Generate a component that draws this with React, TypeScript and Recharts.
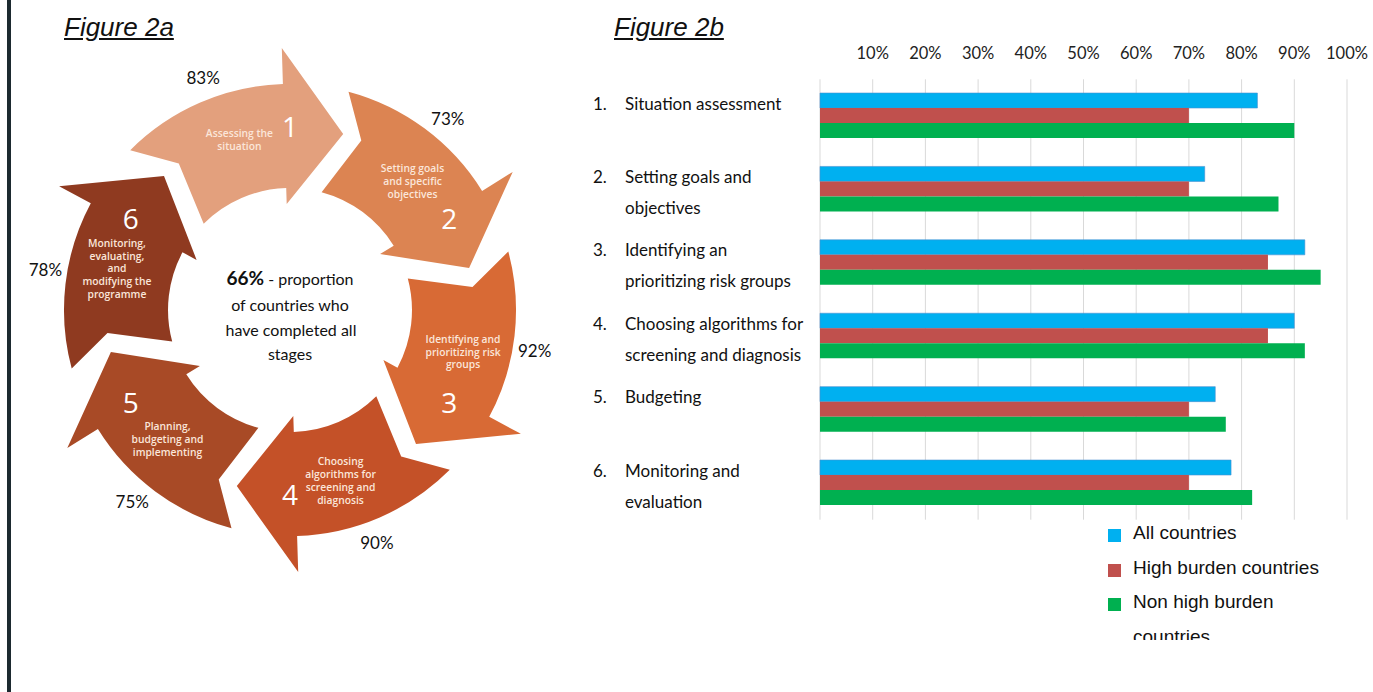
import React from 'react';
import {
  PieChart, Pie, Label,
  BarChart, Bar, XAxis, YAxis, CartesianGrid, Legend,
} from 'recharts';

// Figure 2a – cycle stages (percent of countries that completed each stage)
const cycleCaptions = [
  ['Assessing the', 'situation'],
  ['Setting goals', 'and specific', 'objectives'],
  ['Identifying and', 'prioritizing risk', 'groups'],
  ['Choosing', 'algorithms for', 'screening and', 'diagnosis'],
  ['Planning,', 'budgeting and', 'implementing'],
  ['Monitoring,', 'evaluating,', 'and', 'modifying the', 'programme'],
];
const arrowColors = ['#E3A07D', '#DC8452', '#D86A35', '#C45128', '#A84A26', '#8F3A20'];

// Figure 2b – bar chart
const stageLabels = [
  ['Situation assessment'],
  ['Setting goals and', 'objectives'],
  ['Identifying an', 'prioritizing risk groups'],
  ['Choosing algorithms for', 'screening and diagnosis'],
  ['Budgeting'],
  ['Monitoring and', 'evaluation'],
];
const allCountries = [83, 73, 92, 90, 75, 78];
const highBurden = [70, 70, 85, 85, 70, 70];
const nonHighBurden = [90, 87, 95, 92, 77, 82];
const xTicks = [0, 10, 20, 30, 40, 50, 60, 70, 80, 90, 100];

const seriesInfo = [
  { key: 'all', name: 'All countries', color: '#00B0F0' },
  { key: 'high', name: 'High burden countries', color: '#C0504D' },
  { key: 'non', name: 'Non high burden countries', color: '#00B050' },
];

const cycleData = cycleCaptions.map((lines, i) => ({
  stage: i + 1,
  lines,
  weight: 1,
  pct: allCountries[i],
  color: arrowColors[i],
}));

const barData = stageLabels.map((lines, i) => ({
  stage: String(i + 1),
  lines,
  all: allCountries[i],
  high: highBurden[i],
  non: nonHighBurden[i],
}));

const CAL = 'Lato, "Open Sans", sans-serif';

function polar(cx: number, cy: number, r: number, deg: number): [number, number] {
  const rad = (deg * Math.PI) / 180;
  return [cx + r * Math.cos(rad), cy - r * Math.sin(rad)];
}

function renderArrow(props: any) {
  const { cx, cy, innerRadius, outerRadius, startAngle, endAngle, index } = props;
  const item = cycleData[index];
  const span = startAngle - endAngle;
  const R = outerRadius;
  const r = innerRadius;
  const rm = (R + r) / 2 + 10;
  const tail = startAngle;
  const notch = startAngle - span * 0.13;
  const base = startAngle - span * 0.72;
  const apex = startAngle - span * 1.03;

  const p = (rad: number, a: number) => polar(cx, cy, rad, a).map((v) => v.toFixed(1)).join(' ');
  const d = [
    `M ${p(R, tail)}`,
    `A ${R} ${R} 0 0 1 ${p(R, base)}`,
    `L ${p(R + 36, base)}`,
    `L ${p(rm, apex)}`,
    `L ${p(r - 16, base)}`,
    `L ${p(r, base)}`,
    `A ${r} ${r} 0 0 0 ${p(r, tail)}`,
    `L ${p(rm, notch)}`,
    'Z',
  ].join(' ');

  const mid = startAngle - span / 2;
  const [nx, ny] = polar(cx, cy, 184, mid - 15);
  const [tx, ty] = polar(cx, cy, 178, mid + 1.5);
  const [px, py] = polar(cx, cy, R + 22, mid + 5.5);
  const lh = 12.8;
  const top = ty - ((item.lines.length - 1) * lh) / 2;

  return (
    <g key={`arrow-${index}`}>
      <path d={d} fill={item.color} />
      <text x={nx} y={ny} textAnchor="middle" dominantBaseline="central"
        fill="#ffffff" fontFamily='"Open Sans", sans-serif' fontSize={28}>
        {item.stage}
      </text>
      <text textAnchor="middle" fill="#fbe6da" fontFamily='"Open Sans", sans-serif'
        fontSize={10.3} fontWeight={600}>
        {item.lines.map((ln: string, k: number) => (
          <tspan key={k} x={tx} y={top + k * lh} dominantBaseline="central">{ln}</tspan>
        ))}
      </text>
      <text x={px} y={py} textAnchor="middle" dominantBaseline="central"
        fill="#111" fontFamily={CAL} fontSize={17}>
        {`${item.pct}%`}
      </text>
    </g>
  );
}

function CenterText({ viewBox }: any) {
  const cx = viewBox?.cx ?? 285;
  const cy = viewBox?.cy ?? 305;
  return (
    <text textAnchor="middle" fill="#111" fontFamily={CAL} fontSize={16}>
      <tspan x={cx + 5} y={cy - 20}>
        <tspan fontWeight={700} fontSize={19}>66%</tspan>
        <tspan> - proportion</tspan>
      </tspan>
      <tspan x={cx + 5} y={cy + 6}>of countries who</tspan>
      <tspan x={cx + 6} y={cy + 31}>have completed all</tspan>
      <tspan x={cx + 5} y={cy + 55}>stages</tspan>
    </text>
  );
}

function XTick({ x, payload }: any) {
  if (payload.value === 0) return null;
  return (
    <text x={x} y={53} textAnchor="middle" dominantBaseline="central"
      fill="#222" fontFamily={CAL} fontSize={16.5}>
      {`${payload.value}%`}
    </text>
  );
}

function YTick({ y, payload }: any) {
  const row = barData.find((d) => d.stage === payload.value);
  if (!row) return null;
  return (
    <g>
      <text x={13} y={y - 13} dominantBaseline="central" fill="#111" fontFamily={CAL} fontSize={17}>
        {`${row.stage}.`}
      </text>
      {row.lines.map((ln, k) => (
        <text key={k} x={45} y={y - 13 + k * 31} dominantBaseline="central"
          fill="#111" fontFamily={CAL} fontSize={17}>
          {ln}
        </text>
      ))}
    </g>
  );
}

function LegendBox() {
  return (
    <div style={{ width: 230, fontFamily: '"Liberation Sans", Arial, sans-serif', fontSize: 19, color: '#111' }}>
      {seriesInfo.map((s) => (
        <div key={s.key} style={{ display: 'flex', alignItems: 'flex-start', lineHeight: '34.5px' }}>
          <span style={{
            display: 'inline-block', width: 13, height: 13, background: s.color,
            marginTop: 13, marginRight: 12, flex: '0 0 auto',
          }} />
          <span style={{ width: 200 }}>{s.name}</span>
        </div>
      ))}
    </div>
  );
}

const titleStyle: React.CSSProperties = {
  position: 'absolute',
  top: 12,
  fontFamily: '"Liberation Sans", Arial, sans-serif',
  fontStyle: 'italic',
  textDecoration: 'underline',
  fontSize: 26,
  color: '#111',
  lineHeight: '30px',
};

export default function App() {
  return (
    <div style={{ position: 'absolute', left: 0, top: 0, width: 1373, height: 692, background: '#fff', overflow: 'hidden' }}>
      <div style={{ position: 'absolute', left: 7, top: 0, width: 4, height: 692, background: '#1d2a30' }} />
      <div style={{ ...titleStyle, left: 64 }}>Figure 2a</div>
      <div style={{ ...titleStyle, left: 614 }}>Figure 2b</div>

      <div style={{ position: 'absolute', left: 0, top: 0 }}>
        <PieChart width={580} height={600}>
          <Pie
            data={cycleData}
            dataKey="weight"
            nameKey="stage"
            cx={285}
            cy={305}
            innerRadius={122}
            outerRadius={226}
            startAngle={135}
            endAngle={-225}
            paddingAngle={0}
            fill="transparent"
            stroke="none"
            labelLine={false}
            label={renderArrow}
            isAnimationActive={false}
          >
            <Label position="center" content={<CenterText />} />
          </Pie>
        </PieChart>
      </div>

      <div style={{ position: 'absolute', left: 580, top: 0 }}>
        <BarChart
          width={793}
          height={692}
          data={barData}
          layout="vertical"
          margin={{ top: 0, right: 26, bottom: 172.3, left: 0 }}
          barCategoryGap="18.7%"
          barGap={0}
        >
          <CartesianGrid horizontal={false} stroke="#d9d9d9" />
          <XAxis
            type="number"
            orientation="top"
            domain={[0, 100]}
            ticks={xTicks}
            height={79.3}
            axisLine={false}
            tickLine={false}
            tick={<XTick />}
          />
          <YAxis
            type="category"
            dataKey="stage"
            width={240}
            axisLine={false}
            tickLine={false}
            tick={<YTick />}
          />
          <Bar dataKey="all" name="All countries" fill="#00B0F0" stroke="#4a8fd0" strokeWidth={0.6} isAnimationActive={false} />
          <Bar dataKey="high" name="High burden countries" fill="#C0504D" isAnimationActive={false} />
          <Bar dataKey="non" name="Non high burden countries" fill="#00B050" isAnimationActive={false} />
          <Legend
            layout="horizontal"
            verticalAlign="middle"
            align="center"
            content={<LegendBox />}
            wrapperStyle={{ left: 528, top: 516, width: 240, height: 124, overflow: 'hidden' }}
          />
        </BarChart>
      </div>
    </div>
  );
}
